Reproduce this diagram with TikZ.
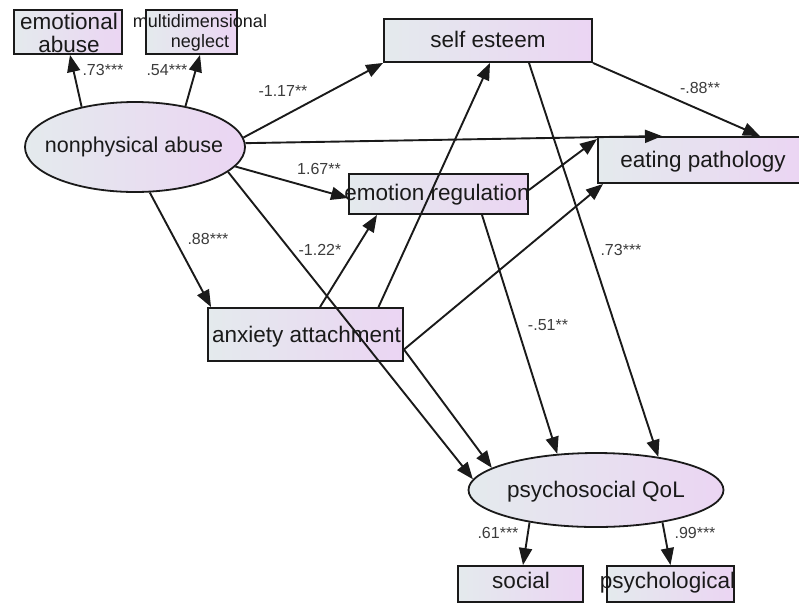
\documentclass[tikz,border=0pt]{standalone}
\usepackage{fontspec}
\setmainfont{Liberation Sans}
\usetikzlibrary{arrows.meta,shapes.geometric,calc}
\definecolor{shl}{HTML}{E4EAED}
\definecolor{shr}{HTML}{EBD5F3}
\definecolor{ink}{HTML}{1A1A1A}
\tikzset{
  boxshape/.style={rectangle, draw=ink, line width=1.9pt, left color=shl, right color=shr, inner sep=0pt},
  ovalshape/.style={ellipse, draw=ink, line width=1.8pt, left color=shl, right color=shr, inner sep=0pt},
  bigtext/.style={font=\fontsize{22.5}{23}\selectfont, text=ink, inner sep=0pt, align=center},
  coef/.style={font=\fontsize{16}{16}\selectfont, text=ink!85, inner sep=0pt},
  link/.style={draw=ink, line width=1.9pt, -{Triangle[length=17pt,width=13pt]}}
}
\begin{document}
\begin{tikzpicture}[x=1pt,y=-1pt]
\clip (0,0) rectangle (799,603);
\fill[white] (0,0) rectangle (799,603);
% shapes
\node[boxshape, minimum width=108pt, minimum height=44pt] (ea) at (68,32) {};
\node[boxshape, minimum width=91pt, minimum height=44pt] (mn) at (191.5,32) {};
\node[ovalshape, minimum width=220pt, minimum height=90pt] (npa) at (135,147) {};
\node[boxshape, minimum width=208pt, minimum height=43pt] (se) at (488,40.5) {};
\node[boxshape, minimum width=203pt, minimum height=46pt] (ep) at (699.5,160) {};
\node[boxshape, minimum width=179pt, minimum height=40pt] (er) at (438.5,194) {};
\node[boxshape, minimum width=195pt, minimum height=53pt] (aa) at (305.5,334.5) {};
\node[ovalshape, minimum width=255pt, minimum height=74pt] (qol) at (596,490) {};
\node[boxshape, minimum width=125pt, minimum height=36pt] (so) at (520.5,584) {};
\node[boxshape, minimum width=127pt, minimum height=36pt] (ps) at (670.5,584) {};
% texts
\node[bigtext] (eat) at (69,33) {emotional\\abuse};
\node[font=\fontsize{18}{20}\selectfont, text=ink, inner sep=0pt, align=center] (mnt) at (200,33) {multidimensional\\neglect};
\node[bigtext, font=\fontsize{21.5}{23}\selectfont, text height=15.5pt, text depth=4.5pt] (npat) at (134,147) {nonphysical abuse};
\node[bigtext, text height=16pt, text depth=4.7pt] (set) at (488,42) {self esteem};
\node[bigtext, text height=16pt, text depth=4.7pt] (ept) at (703,162) {eating pathology};
\node[bigtext, text height=16pt, text depth=4.7pt] (ert) at (437,195) {emotion regulation};
\node[bigtext, text height=16pt, text depth=4.7pt] (aat) at (306.5,337) {anxiety attachment};
\node[bigtext, text height=16pt, text depth=4.7pt] (qolt) at (596,492) {psychosocial QoL};
\node[bigtext, text height=16pt, text depth=4.7pt] (sot) at (521,583) {social};
\node[bigtext, text height=16pt, text depth=4.7pt] (pst) at (667.5,583) {psychological};
% connectors
\draw[link] (npa.143) -- ([xshift=2pt]ea.south);
\draw[link] (npa.39) -- ([xshift=8.5pt]mn.south);
\draw[link] (npa.5) -- (se.south west);
\draw[link] (npa.2) -- ([xshift=-37.5pt]ep.north);
\draw[link] (npa.-11) -- ([yshift=-4pt]er.west);
\draw[link] (npa.-72) -- ([xshift=4pt]aa.north west);
\draw[link] (npa.-15) -- (qol.175);
\draw[link] ([xshift=14.5pt]aa.north) -- ([xshift=-61.5pt]er.south);
\draw[link] ([xshift=73pt]aa.north) -- ([xshift=2pt]se.south);
\draw[link] ([yshift=-15pt]aa.east) -- ([xshift=6pt]ep.south west);
\draw[link] ([yshift=-15pt]aa.east) -- (qol.168);
\draw[link] ([yshift=4pt]er.east) -- ([yshift=-3pt]ep.north west);
\draw[link] ([xshift=43.5pt]er.south) -- (qol.137);
\draw[link] ([xshift=41pt]se.south) -- (qol.28);
\draw[link] (se.south east) -- ([xshift=60.5pt]ep.north);
\draw[link] (qol.206) -- ([xshift=2.5pt]so.north);
\draw[link] (qol.334) -- (ps.north);
% coefficients
\node[coef] (c1) at (103,70) {.73***};
\node[coef] (c2) at (167,70) {.54***};
\node[coef] (c3) at (283,91) {-1.17**};
\node[coef] (c4) at (319,169) {1.67**};
\node[coef] (c5) at (208,239) {.88***};
\node[coef] (c6) at (320,250) {-1.22*};
\node[coef] (c7) at (700,87.5) {-.88**};
\node[coef] (c8) at (621,250) {.73***};
\node[coef] (c9) at (548,325) {-.51**};
\node[coef] (c10) at (498,533) {.61***};
\node[coef] (c11) at (695,533) {.99***};
\end{tikzpicture}
\end{document}
